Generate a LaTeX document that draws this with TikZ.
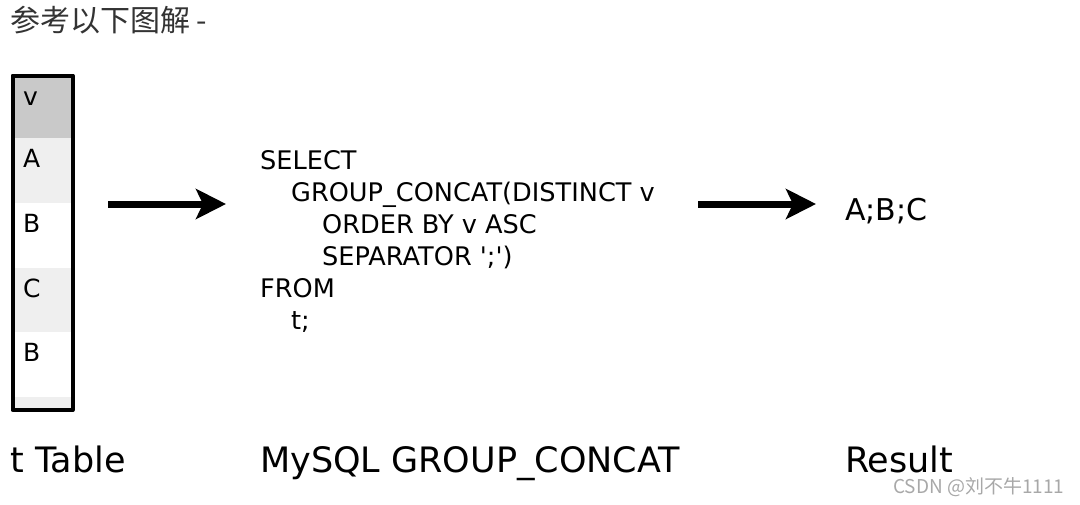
\documentclass[tikz,border=0pt]{standalone}
\usepackage{fontspec}
\setmainfont{DejaVu Sans}
\newfontfamily\cjk{Noto Sans CJK SC}
\usetikzlibrary{positioning,arrows.meta}
\definecolor{headgrey}{HTML}{C9C9C9}
\definecolor{rowgrey}{HTML}{EFEFEF}
\definecolor{titleink}{HTML}{333333}
\definecolor{markgrey}{HTML}{A8A8A8}
\tikzset{
  cell/.style     = {rectangle, inner sep=0pt, outer sep=0pt, minimum width=60pt,
                     anchor=north west},
  celltext/.style = {anchor=north west, inner sep=0pt, xshift=10.5pt, yshift=-11pt,
                     font=\fontsize{25}{25}\selectfont},
  frame/.style    = {draw=black, line width=4pt, line join=round},
  sqltext/.style  = {anchor=north west, inner sep=0pt, align=left,
                     font=\fontsize{25.6}{32}\selectfont},
  caption/.style  = {anchor=base west, inner sep=0pt, font=\fontsize{35}{35}\selectfont},
  flow/.style     = {-{Stealth[length=30pt, width=30pt, inset=7pt]}, line width=7pt},
}

\begin{document}
\begin{tikzpicture}[x=1pt, y=-1pt]
  \useasboundingbox (0,0) rectangle (1080,504);

  \node[anchor=base west, inner sep=0pt, text=titleink, font=\cjk\fontsize{30}{30}\selectfont]
       (title) at (10,31) {参考以下图解 -};

  % t table
  \node[cell, fill=headgrey, minimum height=62.5pt,
        label={[celltext, yshift=-5pt]north west:v}] (hd) at (12.5,75.5) {};
  \node[cell, fill=rowgrey, minimum height=65pt, below=0pt of hd,
        label={[celltext]north west:A}] (r1) {};
  \node[cell, fill=white, minimum height=65pt, below=0pt of r1,
        label={[celltext]north west:B}] (r2) {};
  \node[cell, fill=rowgrey, minimum height=64pt, below=0pt of r2,
        label={[celltext]north west:C}] (r3) {};
  \node[cell, fill=white, minimum height=65pt, below=0pt of r3,
        label={[celltext]north west:B}] (r4) {};
  \node[cell, fill=rowgrey, minimum height=13pt, below=0pt of r4] (r5) {};
  \draw[frame] (hd.north west) rectangle (r5.south east);

  \node[sqltext] (sql) at (260,150)
       {SELECT\\
        \hspace*{31pt}GROUP\_CONCAT(DISTINCT v\\
        \hspace*{62pt}ORDER BY v ASC\\
        \hspace*{62pt}SEPARATOR \textquotesingle;\textquotesingle)\\
        FROM\\
        \hspace*{31pt}t;};

  \node[anchor=base west, inner sep=0pt, font=\fontsize{30}{30}\selectfont]
       (res) at (845,220) {A;B;C};

  \coordinate (in1) at (108,204);  \coordinate (out1) at (226,204);
  \coordinate (in2) at (698,204);  \coordinate (out2) at (816,204);
  \draw[flow] (in1) -- (out1);
  \draw[flow] (in2) -- (out2);

  \node[caption] (captbl) at (10,472) {t Table};
  \node[caption] (capsql) at (260,472) {MySQL GROUP\_CONCAT};
  \node[caption] (capres) at (845,472) {Result};

  \node[anchor=base west, inner sep=0pt, text height=13pt, text depth=2pt, text=markgrey,
        font=\cjk\fontsize{19}{19}\selectfont]
       (mark) at (893,493) {CSDN @刘不牛1111};
\end{tikzpicture}
\end{document}
